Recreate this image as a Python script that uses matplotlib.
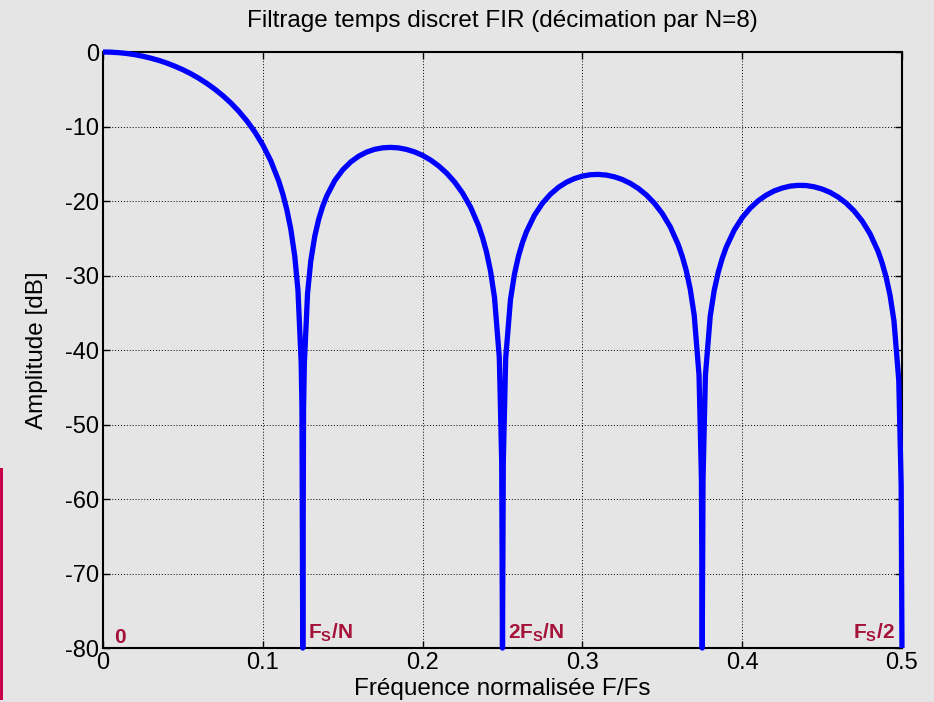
import matplotlib
matplotlib.use("Agg")
import matplotlib.pyplot as plt
from matplotlib.patches import Rectangle

# ---- data ----
freq = [0.000, 0.005, 0.010, 0.015, 0.020, 0.025, 0.030, 0.035, 0.040, 0.045,
        0.050, 0.055, 0.060, 0.065, 0.070, 0.075, 0.080, 0.085, 0.090, 0.095,
        0.100, 0.105, 0.110, 0.1125, 0.115, 0.1175, 0.120, 0.122, 0.124, 0.1245, 0.125,
        0.1255, 0.126, 0.128, 0.130, 0.1325, 0.135, 0.1375, 0.140, 0.145, 0.150, 0.155, 0.160,
        0.165, 0.170, 0.175, 0.180, 0.185, 0.190, 0.195, 0.200, 0.205, 0.210,
        0.215, 0.220, 0.225, 0.230, 0.235, 0.2375, 0.240, 0.2425, 0.245, 0.248, 0.2495, 0.250,
        0.2505, 0.252, 0.255, 0.2575, 0.260, 0.2625, 0.265, 0.270, 0.275, 0.280, 0.285, 0.290,
        0.295, 0.300, 0.305, 0.310, 0.315, 0.320, 0.325, 0.330, 0.335, 0.340,
        0.345, 0.350, 0.355, 0.360, 0.3625, 0.365, 0.3675, 0.370, 0.373, 0.3745, 0.375,
        0.3755, 0.377, 0.380, 0.3825, 0.385, 0.3875, 0.390, 0.395, 0.400, 0.405, 0.410, 0.415,
        0.420, 0.425, 0.430, 0.435, 0.440, 0.445, 0.450, 0.455, 0.460, 0.465,
        0.470, 0.475, 0.480, 0.485, 0.4875, 0.490, 0.4925, 0.495, 0.498, 0.4995, 0.500]
amp_db = [0.0, -0.02, -0.09, -0.20, -0.36, -0.57, -0.83, -1.13, -1.49, -1.91,
          -2.38, -2.92, -3.53, -4.22, -4.99, -5.86, -6.84, -7.96, -9.24, -10.72,
          -12.48, -14.61, -17.34, -19.05, -21.12, -23.75, -27.42, -31.98, -41.65, -47.7, -80.0,
          -47.8, -41.8, -32.4, -28.08, -24.74, -22.43, -20.70, -19.33, -17.27, -15.82, -14.76, -13.98,
          -13.43, -13.06, -12.86, -12.80, -12.87, -13.08, -13.41, -13.88, -14.50, -15.28,
          -16.25, -17.44, -18.93, -20.81, -23.30, -24.90, -26.85, -29.39, -32.95, -40.98, -54.9, -80.0,
          -55.0, -41.09, -33.23, -29.80, -27.40, -25.58, -24.12, -21.91, -20.30, -19.09, -18.17, -17.48,
          -16.99, -16.66, -16.47, -16.43, -16.52, -16.75, -17.11, -17.63, -18.31, -19.18,
          -20.28, -21.68, -23.47, -25.87, -27.43, -29.34, -31.83, -35.36, -43.34, -57.3, -80.0,
          -57.4, -43.38, -35.47, -32.00, -29.57, -27.71, -26.21, -23.92, -22.24, -20.96, -19.97, -19.22,
          -18.65, -18.26, -18.00, -17.90, -17.92, -18.09, -18.39, -18.84, -19.46, -20.27,
          -21.32, -22.65, -24.39, -26.73, -28.26, -30.14, -32.60, -36.10, -44.05, -58.1, -80.0]

x_ticks = [0, 0.1, 0.2, 0.3, 0.4, 0.5]
x_ticklabels = ["0", "0.1", "0.2", "0.3", "0.4", "0.5"]
y_ticks = [0, -10, -20, -30, -40, -50, -60, -70, -80]
y_ticklabels = ["0", "-10", "-20", "-30", "-40", "-50", "-60", "-70", "-80"]

marker_labels = [r"$\mathbf{0}$", r"$\mathbf{F_S/N}$", r"$\mathbf{2F_S/N}$", r"$\mathbf{F_S/2}$"]
marker_x = [0.0069, 0.128, 0.2534, 0.4958]
marker_y = [-79.3, -78.8, -78.8, -78.8]
marker_ha = ["left", "left", "left", "right"]

title = "Filtrage temps discret FIR (décimation par N=8)"
xlabel = "Fréquence normalisée F/Fs"
ylabel = "Amplitude [dB]"

# ---- style ----
plt.rcParams['font.family'] = ['Liberation Sans', 'DejaVu Sans']
plt.rcParams['mathtext.fontset'] = 'custom'
plt.rcParams['mathtext.rm'] = 'Liberation Sans'
plt.rcParams['mathtext.bf'] = 'Liberation Sans:bold'

bg = '#e5e5e5'
fig = plt.figure(figsize=(9.34, 7.02), dpi=100, facecolor=bg)
ax = fig.add_axes([0.1103, 0.0769, 0.8554, 0.8490])
ax.set_facecolor(bg)

ax.plot(freq, amp_db, color='#0000ff', linewidth=3.8, solid_capstyle='butt',
        solid_joinstyle='round', clip_on=False, zorder=3)

ax.set_xlim(0, 0.5)
ax.set_ylim(-80, 0)
ax.set_xticks(x_ticks)
ax.set_xticklabels(x_ticklabels)
ax.set_yticks(y_ticks)
ax.set_yticklabels(y_ticklabels)
ax.tick_params(direction='in', length=5, width=1, labelsize=17, pad=3,
               top=True, right=True, colors='black')
ax.grid(True, color='black', linestyle=(0, (1, 2)), linewidth=0.7)
for s in ax.spines.values():
    s.set_linewidth(1.5)
    s.set_color('black')

ax.set_title(title, fontsize=17.5, pad=18)
ax.set_xlabel(xlabel, fontsize=17.5, labelpad=3)
ax.set_ylabel(ylabel, fontsize=17.5, labelpad=12)

for lab, xx, yy, ha in zip(marker_labels, marker_x, marker_y, marker_ha):
    ax.text(xx, yy, lab, color='#a5123a', fontsize=15, ha=ha, va='baseline', zorder=4)

# decorative bar at the left edge
fig.patches.append(Rectangle((0, 1 - 700 / 702), 3 / 934, (700 - 468) / 702,
                             transform=fig.transFigure, facecolor='#c8004a',
                             edgecolor='none'))

fig.savefig('out.png', dpi=100, facecolor=bg)
